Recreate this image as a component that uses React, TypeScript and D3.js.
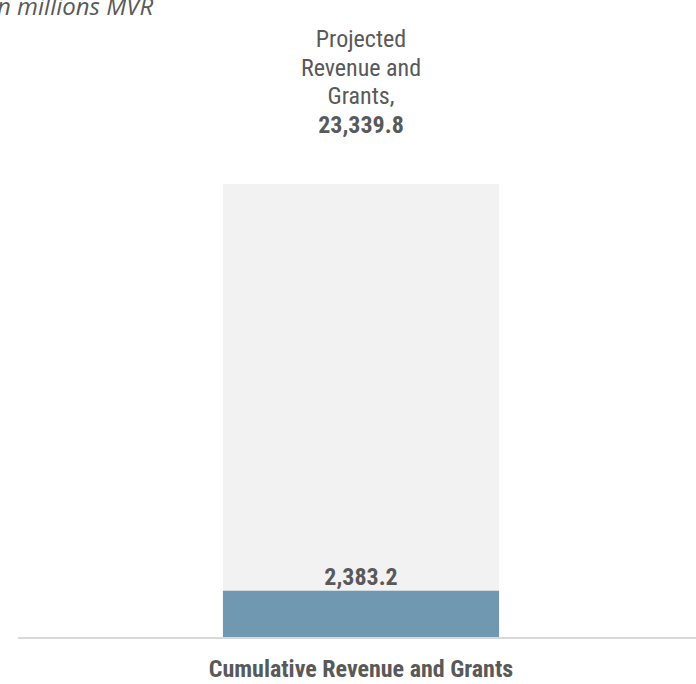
import * as d3 from "d3";

const categories = ["Cumulative Revenue and Grants"];
const actualValues = [2383.2];
const projectedValues = [23339.8];
const projectedLabelLines = ["Projected", "Revenue and", "Grants,"];
const unitLabel = "in millions MVR";

const width = 696;
const height = 684;
const fontStack = "'Roboto Condensed', 'Liberation Sans Narrow', Roboto, sans-serif";
const textColor = "#595959";

export default function App() {
  const x = d3.scaleBand().domain(categories).range([18, 704]).padding(0.426);
  const y = d3
    .scaleLinear()
    .domain([0, d3.max(projectedValues)!])
    .range([637, 184]);
  const fmt = d3.format(",.1f");

  return (
    <svg
      width={width}
      height={height}
      style={{ position: "absolute", left: 0, top: 0 }}
    >
      <text
        x={-9}
        y={15}
        fontFamily="'Open Sans', sans-serif"
        fontStyle="italic"
        fontSize={24}
        fill={textColor}
      >
        {unitLabel}
      </text>

      {categories.map((c, i) => {
        const bx = x(c)!;
        const cx = bx + x.bandwidth() / 2;
        const topY = y(projectedValues[i]);
        return (
          <g key={c}>
            <rect
              x={bx}
              y={topY}
              width={x.bandwidth()}
              height={y(0) - topY}
              fill="#f2f2f2"
            />
            <rect
              x={bx}
              y={y(actualValues[i])}
              width={x.bandwidth()}
              height={y(0) - y(actualValues[i])}
              fill="#7099b1"
            />
            <g transform={`translate(${cx},0)`}>
              {projectedLabelLines.map((line, j) => (
                <text
                  key={j}
                  x={0}
                  y={topY - 51 - (projectedLabelLines.length - j) * 28.7}
                  textAnchor="middle"
                  fontFamily={fontStack}
                  fontSize={24}
                  fill={textColor}
                >
                  {line}
                </text>
              ))}
              <text
                x={0}
                y={topY - 51}
                textAnchor="middle"
                fontFamily={fontStack}
                fontSize={24}
                fontWeight="bold"
                fill={textColor}
              >
                {fmt(projectedValues[i])}
              </text>
              <text
                x={0}
                y={y(actualValues[i]) - 6}
                textAnchor="middle"
                fontFamily={fontStack}
                fontSize={24}
                fontWeight="bold"
                fill={textColor}
              >
                {fmt(actualValues[i])}
              </text>
              <text
                x={0}
                y={677}
                textAnchor="middle"
                fontFamily={fontStack}
                fontSize={24}
                fontWeight="bold"
                fill={textColor}
              >
                {c}
              </text>
            </g>
          </g>
        );
      })}

      <line
        x1={18}
        x2={width}
        y1={y(0) + 1}
        y2={y(0) + 1}
        stroke="#d9d9d9"
        strokeWidth={2}
      />
    </svg>
  );
}
